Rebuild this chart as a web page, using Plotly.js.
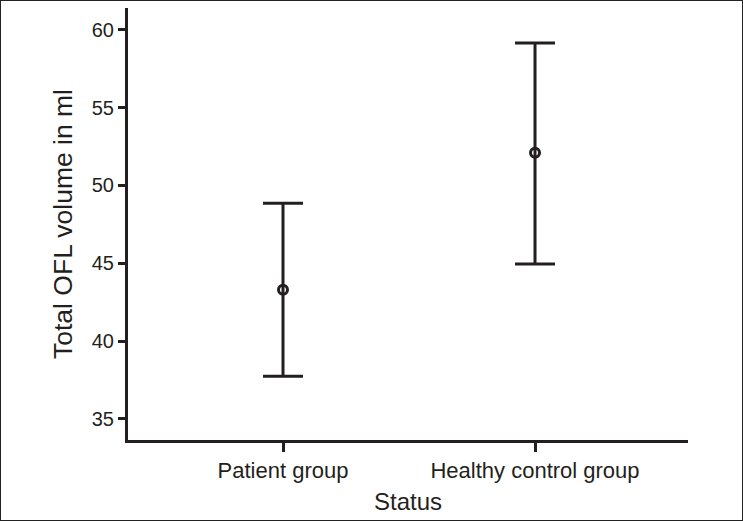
<!DOCTYPE html>
<html><head><meta charset="utf-8">
<script src="https://cdn.plot.ly/plotly-3.0.1.min.js"></script>
<style>html,body{margin:0;padding:0;background:#fff}#c{width:743px;height:521px;position:relative}
#frame{position:absolute;left:0;top:0;width:741px;height:519px;border:1px solid #222;pointer-events:none}</style>
</head><body><div id="c"></div><div id="frame"></div>
<script>
const groups = ["Patient group", "Healthy control group"];
const means = [43.3, 52.1];
const upper = [48.85, 59.15];
const lower = [37.75, 44.95];
const yTicks = [35, 40, 45, 50, 55, 60];

const ink = '#231f20';
const trace = {
  x: groups, y: means, type: 'scatter', mode: 'markers',
  marker: {symbol: 'circle-open', size: 9, color: ink, line: {width: 3, color: ink}},
  error_y: {type: 'data', symmetric: false,
    array: upper.map((u, i) => u - means[i]),
    arrayminus: means.map((m, i) => m - lower[i]),
    color: ink, thickness: 3, width: 20},
  hoverinfo: 'skip'
};
const layout = {
  width: 743, height: 521,
  margin: {l: 128, r: 55, t: 8, b: 81},
  paper_bgcolor: '#fff', plot_bgcolor: '#fff',
  showlegend: false,
  font: {family: 'Liberation Sans, Arial, sans-serif', color: ink},
  xaxis: {
    type: 'category', range: [-0.615, 1.607],
    showline: true, linewidth: 3, linecolor: ink, mirror: false,
    ticks: 'outside', ticklen: 9, tickwidth: 3, tickcolor: ink,
    showgrid: false, zeroline: false,
    tickfont: {size: 22, color: ink},
    title: {text: 'Status', font: {size: 24, color: ink}, standoff: 11}
  },
  yaxis: {
    range: [33.65, 61.4], tickvals: yTicks, ticktext: yTicks.map(String),
    showline: true, linewidth: 3, linecolor: ink,
    ticks: 'outside', ticklen: 7, tickwidth: 3, tickcolor: ink,
    showgrid: false, zeroline: false,
    tickfont: {size: 20, color: ink},
    title: {text: 'Total OFL volume in ml', font: {size: 26.5, color: ink}, standoff: 12}
  }
};
Plotly.newPlot('c', [trace], layout, {staticPlot: true, displayModeBar: false});
</script></body></html>
